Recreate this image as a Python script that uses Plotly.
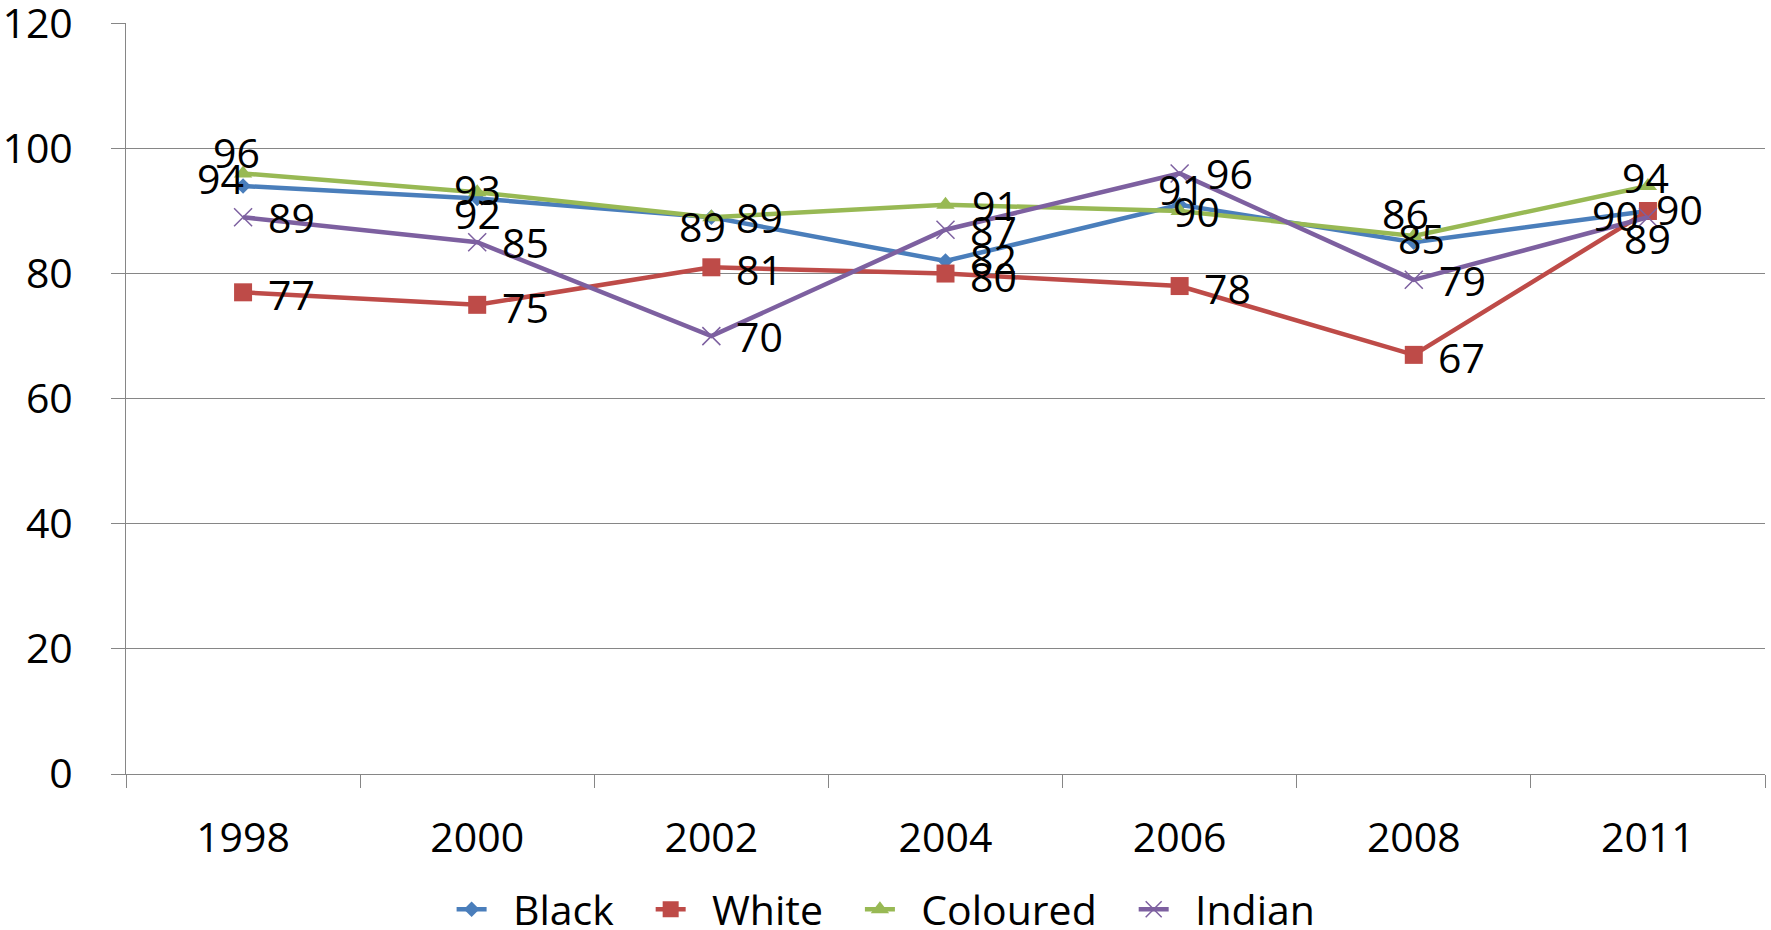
import plotly.graph_objects as go

# Survey years and percentage values per population group
years = ["1998", "2000", "2002", "2004", "2006", "2008", "2011"]
black = [94, 92, 89, 82, 91, 85, 90]
white = [77, 75, 81, 80, 78, 67, 90]
coloured = [96, 93, 89, 91, 90, 86, 94]
indian = [89, 85, 70, 87, 96, 79, 89]

y_ticks = [0, 20, 40, 60, 80, 100, 120]

FONT = "Open Sans"
FS = 41
GREY = "#868686"
LEAD = "\u00a0" * 2   # gap between legend symbol and its text
TRAIL = "\u00a0" * 3  # gap after each legend entry

# Per-series styling and label offsets (px, relative to each point)
series = [
    dict(name="Black", values=black, color="#4A7EBB",
         marker=dict(symbol="diamond", size=12, color="#4A7EBB"),
         offs=[(-23, 8), (0, -15), (-9, -9), (48, 3), (2, 16), (8, 4), (-32, -4)]),
    dict(name="White", values=white, color="#BE4B48",
         marker=dict(symbol="square", size=18, color="#BE4B48"),
         offs=[(48, -2), (48, -2), (48, -2), (48, -2), (48, -2), (48, -2), (32, 2)]),
    dict(name="Coloured", values=coloured, color="#98B954",
         marker=dict(symbol="triangle-up", size=16, color="#98B954"),
         offs=[(-7, 21), (0, 3), (48, 0), (50, 0), (17, 0), (-8, 23), (-2, 9)]),
    dict(name="Indian", values=indian, color="#7D60A0",
         marker=dict(symbol="x-thin-open", size=18,
                     line=dict(color="#9C87BE", width=1.5)),
         offs=[(48, 0), (48, 0), (48, 0), (48, 0), (50, 0), (49, 0), (0, -21)]),
]

fig = go.Figure()
annotations = []
for s in series:
    fig.add_trace(go.Scatter(
        x=years, y=s["values"], mode="lines+markers",
        name=LEAD + s["name"] + TRAIL,
        line=dict(color=s["color"], width=4.5),
        marker=s["marker"],
    ))
    for i, (v, (dx, dy)) in enumerate(zip(s["values"], s["offs"])):
        annotations.append(dict(
            x=i, y=v, xref="x", yref="y", text=str(v), showarrow=False,
            xanchor="center", yanchor="middle",
            xshift=dx, yshift=dy,
            font=dict(family=FONT, size=FS, color="black"),
        ))

fig.update_layout(
    width=1771, height=930, autosize=False,
    margin=dict(l=126, r=6, t=23, b=156),
    paper_bgcolor="white", plot_bgcolor="white",
    font=dict(family=FONT, size=FS, color="black"),
    annotations=annotations,
    showlegend=True,
    legend=dict(
        orientation="h", xref="container", yref="container",
        x=0.255, y=0.022, xanchor="left", yanchor="middle",
        font=dict(family=FONT, size=FS, color="black"),
        itemwidth=30, tracegroupgap=0, bgcolor="rgba(0,0,0,0)",
    ),
    xaxis=dict(
        type="category", range=[-0.5, 6.5], automargin=False,
        tickson="boundaries", ticks="outside", ticklen=13,
        tickcolor=GREY, tickwidth=1,
        showline=True, linecolor=GREY, linewidth=1,
        showgrid=False, zeroline=False,
        ticklabelstandoff=28,
        tickfont=dict(family=FONT, size=FS, color="black"),
    ),
    yaxis=dict(
        range=[0, 120.05], tickvals=y_ticks, automargin=False,
        ticks="outside", ticklen=14, tickcolor=GREY, tickwidth=1,
        showline=True, linecolor=GREY, linewidth=1,
        showgrid=True, gridcolor=GREY, gridwidth=1,
        zeroline=False, ticklabelstandoff=30, ticklabeloverflow="allow",
        tickfont=dict(family=FONT, size=FS, color="black"),
    ),
)

fig.write_html("out.html")
